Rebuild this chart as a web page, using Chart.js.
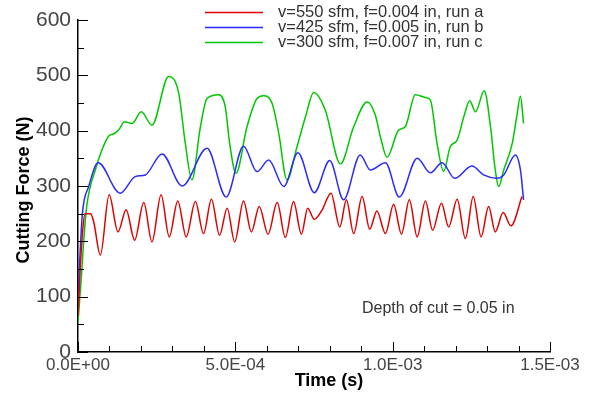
<!DOCTYPE html>
<html>
<head>
<meta charset="utf-8">
<script src="https://cdn.jsdelivr.net/npm/chart.js@4"></script>
<style>
  html, body { margin: 0; padding: 0; background: #fff; }
</style>
</head>
<body>
<canvas id="forceChart" width="589" height="393"></canvas>
<script>
// time values are in units of 1e-4 s
const tUnit = 1e-4;

const seriesLabels = [
  'v=550 sfm, f=0.004 in, run a',
  'v=425 sfm, f=0.005 in, run b',
  'v=300 sfm, f=0.007 in, run c'
];
const seriesColors = ['#e00000', '#2a2aff', '#00c800'];

const runATime = [0, 0.07, 0.15, 0.22, 0.40, 0.50, 0.71, 0.99, 1.27, 1.53, 1.80, 2.09, 2.35, 2.64, 2.90, 3.17, 3.44, 3.73, 3.99, 4.24, 4.50, 4.74, 4.98, 5.26, 5.51, 5.76, 6.04, 6.33, 6.59, 6.85, 7.10, 7.30, 7.51, 7.76, 8.04, 8.32, 8.53, 8.76, 9.03, 9.27, 9.50, 9.77, 10.03, 10.28, 10.53, 10.78, 11.04, 11.27, 11.55, 11.78, 12.05, 12.31, 12.56, 12.81, 13.05, 13.26, 13.51, 13.76, 14.11];
const runAForce = [65, 150, 220, 250, 250, 235, 175, 284, 217, 257, 202, 270, 199, 284, 208, 273, 208, 272, 214, 276, 211, 260, 199, 273, 217, 263, 213, 270, 207, 272, 213, 260, 240, 257, 287, 226, 275, 214, 281, 222, 255, 214, 267, 213, 275, 208, 273, 220, 269, 226, 276, 205, 281, 208, 263, 217, 252, 228, 281];

const runBTime = [0, 0.05, 0.14, 0.34, 0.64, 1.34, 1.82, 2.14, 2.67, 3.31, 4.10, 4.71, 5.26, 5.69, 6.06, 6.54, 6.99, 7.51, 8.00, 8.44, 8.97, 9.29, 9.77, 10.21, 10.78, 11.20, 11.57, 11.97, 12.52, 12.89, 13.32, 13.53, 13.90, 14.06, 14.16];
const runBForce = [100, 160, 250, 299, 342, 287, 317, 320, 358, 300, 368, 280, 372, 326, 347, 299, 360, 288, 346, 275, 356, 329, 342, 280, 350, 324, 342, 314, 336, 320, 314, 320, 356, 329, 275];

const runCTime = [0, 0.10, 0.20, 0.29, 0.55, 0.76, 0.97, 1.13, 1.29, 1.48, 1.72, 2.01, 2.35, 2.88, 3.20, 3.41, 3.62, 3.89, 4.10, 4.47, 4.68, 4.82, 5.02, 5.37, 5.69, 5.90, 6.17, 6.38, 6.64, 6.96, 7.23, 7.49, 7.86, 8.34, 8.76, 9.19, 9.45, 9.61, 9.82, 10.19, 10.40, 10.72, 11.04, 11.20, 11.41, 11.62, 11.83, 12.05, 12.26, 12.45, 12.63, 12.91, 13.11, 13.26, 13.37, 13.53, 13.80, 13.95, 14.06, 14.16];
const runCForce = [55, 130, 215, 269, 329, 365, 390, 394, 401, 416, 413, 434, 410, 498, 468, 377, 311, 407, 458, 465, 443, 377, 323, 407, 458, 463, 449, 395, 311, 371, 425, 469, 437, 340, 407, 452, 428, 389, 352, 401, 407, 465, 460, 455, 377, 326, 371, 383, 425, 454, 434, 472, 407, 329, 299, 329, 377, 428, 462, 413];

const xTickValues = [0, 5e-4, 1e-3, 1.5e-3];
const xTickLabels = ['0.0E+00', '5.0E-04', '1.0E-03', '1.5E-03'];
const yTickValues = [0, 100, 200, 300, 400, 500, 600];
const xTitle = 'Time (s)';
const yTitle = 'Cutting Force (N)';
const noteText = 'Depth of cut = 0.05 in';

function toPoints(times, forces) {
  return times.map((t, i) => ({ x: t * tUnit, y: forces[i] }));
}

// inward ticks, legend, titles and note, Tecplot style
const decor = {
  id: 'decor',
  afterDraw(chart) {
    const ctx = chart.ctx;
    const xs = chart.scales.x, ys = chart.scales.y;
    const area = chart.chartArea;
    ctx.save();
    ctx.strokeStyle = '#000';
    ctx.lineWidth = 1;
    ctx.beginPath();
    for (let i = 0; i <= 12; i++) {
      const py = Math.round(ys.getPixelForValue(i * 50)) + 0.5;
      const len = i % 2 === 0 ? 10 : 6;
      ctx.moveTo(area.left, py);
      ctx.lineTo(area.left + len, py);
    }
    for (let i = 0; i <= 15; i++) {
      const px = Math.round(xs.getPixelForValue(i * 1e-4)) + 0.5;
      const len = i % 5 === 0 ? 10 : 6;
      ctx.moveTo(px, area.bottom);
      ctx.lineTo(px, area.bottom - len);
    }
    ctx.stroke();

    // legend
    ctx.font = '16.5px "Liberation Sans", Arial, sans-serif';
    ctx.textBaseline = 'middle';
    ctx.textAlign = 'left';
    seriesLabels.forEach((label, i) => {
      const y = 12.5 + i * 15;
      ctx.strokeStyle = seriesColors[i];
      ctx.lineWidth = 1.5;
      ctx.beginPath();
      ctx.moveTo(205, y);
      ctx.lineTo(263, y);
      ctx.stroke();
      ctx.fillStyle = '#333';
      ctx.fillText(label, 278, y);
    });

    // note
    ctx.font = '16px "Liberation Sans", Arial, sans-serif';
    ctx.fillStyle = '#333';
    ctx.fillText(noteText, 362, 309);

    // axis titles
    ctx.font = 'bold 18px "Liberation Sans", Arial, sans-serif';
    ctx.fillStyle = '#000';
    ctx.textAlign = 'center';
    ctx.fillText(xTitle, 329, 381);
    ctx.translate(24, 190);
    ctx.rotate(-Math.PI / 2);
    ctx.fillText(yTitle, 0, 0);
    ctx.restore();
  }
};

const ctx = document.getElementById('forceChart').getContext('2d');
const chart = new Chart(ctx, {
  type: 'line',
  data: {
    datasets: [
      { label: seriesLabels[0], data: toPoints(runATime, runAForce) },
      { label: seriesLabels[1], data: toPoints(runBTime, runBForce) },
      { label: seriesLabels[2], data: toPoints(runCTime, runCForce) }
    ].map((ds, i) => Object.assign(ds, {
      borderColor: seriesColors[i],
      borderWidth: 1.5,
      pointRadius: 0,
      fill: false,
      cubicInterpolationMode: 'monotone'
    }))
  },
  options: {
    responsive: false,
    animation: false,
    layout: { padding: { left: 0, right: 39, top: 20, bottom: 0 } },
    plugins: {
      legend: { display: false },
      tooltip: { enabled: false }
    },
    scales: {
      x: {
        type: 'linear',
        min: 0,
        max: 1.5e-3,
        afterBuildTicks: s => { s.ticks = xTickValues.map(v => ({ value: v })); },
        afterFit: s => { s.height = 41; },
        grid: { display: false, drawTicks: false },
        border: { display: true, color: '#000', width: 1.5 },
        ticks: {
          autoSkip: false,
          maxRotation: 0,
          padding: 3,
          color: '#444',
          font: { family: '"Liberation Sans", Arial, sans-serif', size: 17 },
          callback: (v, i) => xTickLabels[i]
        }
      },
      y: {
        type: 'linear',
        min: 0,
        max: 600,
        afterBuildTicks: s => { s.ticks = yTickValues.map(v => ({ value: v })); },
        afterFit: s => { s.width = 78; },
        grid: { display: false, drawTicks: false },
        border: { display: true, color: '#000', width: 1.5 },
        ticks: {
          padding: 7,
          color: '#444',
          font: { family: '"Liberation Sans", Arial, sans-serif', size: 21 }
        }
      }
    }
  },
  plugins: [decor]
});
</script>
</body>
</html>
